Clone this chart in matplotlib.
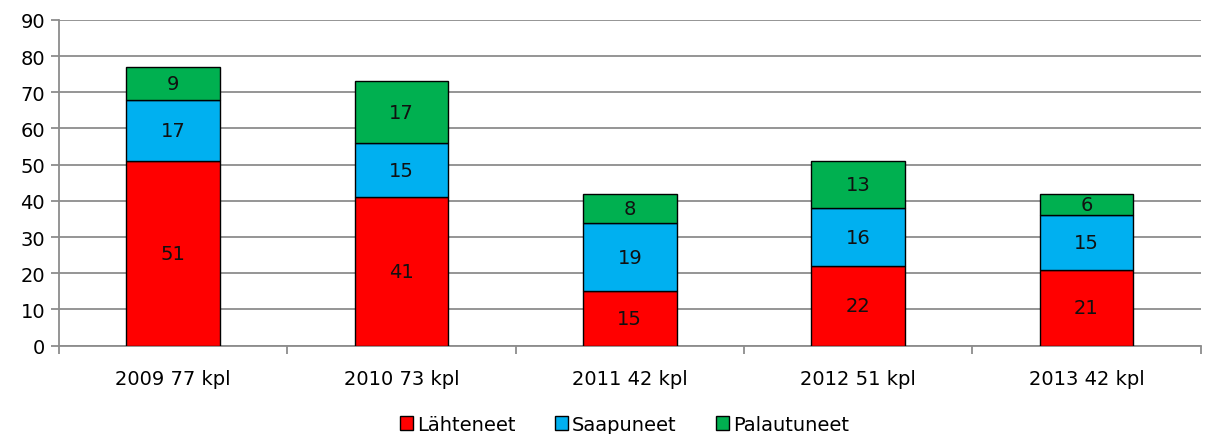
import numpy as np
import matplotlib
matplotlib.use("Agg")
from matplotlib import pyplot as plt

# Chart data
categories = ["2009 77 kpl", "2010 73 kpl", "2011 42 kpl", "2012 51 kpl", "2013 42 kpl"]
lahteneet = [51, 41, 15, 22, 21]
saapuneet = [17, 15, 19, 16, 15]
palautuneet = [9, 17, 8, 13, 6]

series = [
    ("Lähteneet", lahteneet, "#FF0000"),
    ("Saapuneet", saapuneet, "#00B0F0"),
    ("Palautuneet", palautuneet, "#00B050"),
]

plt.rcParams['font.family'] = ['DejaVu Sans']

fig = plt.figure(figsize=(12.17, 4.35), dpi=100)
ax = fig.add_axes([0.0485, 0.203, 0.938, 0.749])

x = np.arange(len(categories))
bottom = np.zeros(len(categories))
for name, values, color in series:
    bars = ax.bar(x, values, width=0.41, bottom=bottom, color=color,
                  edgecolor="black", linewidth=1.0, label=name, zorder=3)
    for rect, v in zip(bars, values):
        ax.text(rect.get_x() + rect.get_width() / 2, rect.get_y() + rect.get_height() / 2,
                str(v), ha="center", va="center", fontsize=14, color="#111111", zorder=4)
    bottom += np.array(values)

ax.set_xlim(-0.5, len(categories) - 0.5)
ax.set_ylim(0, 90)
ax.set_yticks(range(0, 91, 10))
ax.tick_params(axis="y", labelsize=14, length=6, width=1.3, color="#8c8c8c", pad=4)

# category labels centered, tick marks at category boundaries
ax.set_xticks(x)
ax.set_xticklabels(categories, fontsize=14)
ax.tick_params(axis="x", which="major", length=0, pad=17)
ax.set_xticks(np.arange(-0.5, len(categories)), minor=True)
ax.tick_params(axis="x", which="minor", length=6, width=1.3, color="#8c8c8c")

ax.yaxis.grid(True, color="#8c8c8c", linewidth=1.3, zorder=0)
for side in ["top", "right"]:
    ax.spines[side].set_visible(False)
for side in ["left", "bottom"]:
    ax.spines[side].set_color("#8c8c8c")
    ax.spines[side].set_linewidth(1.3)

fig.legend(loc="center", bbox_to_anchor=(0.513, 0.022), ncol=3, frameon=False,
           fontsize=14, handlelength=0.7, handleheight=0.7, handletextpad=0.2,
           columnspacing=2.0, borderpad=0)

fig.savefig("out.png", dpi=100)
